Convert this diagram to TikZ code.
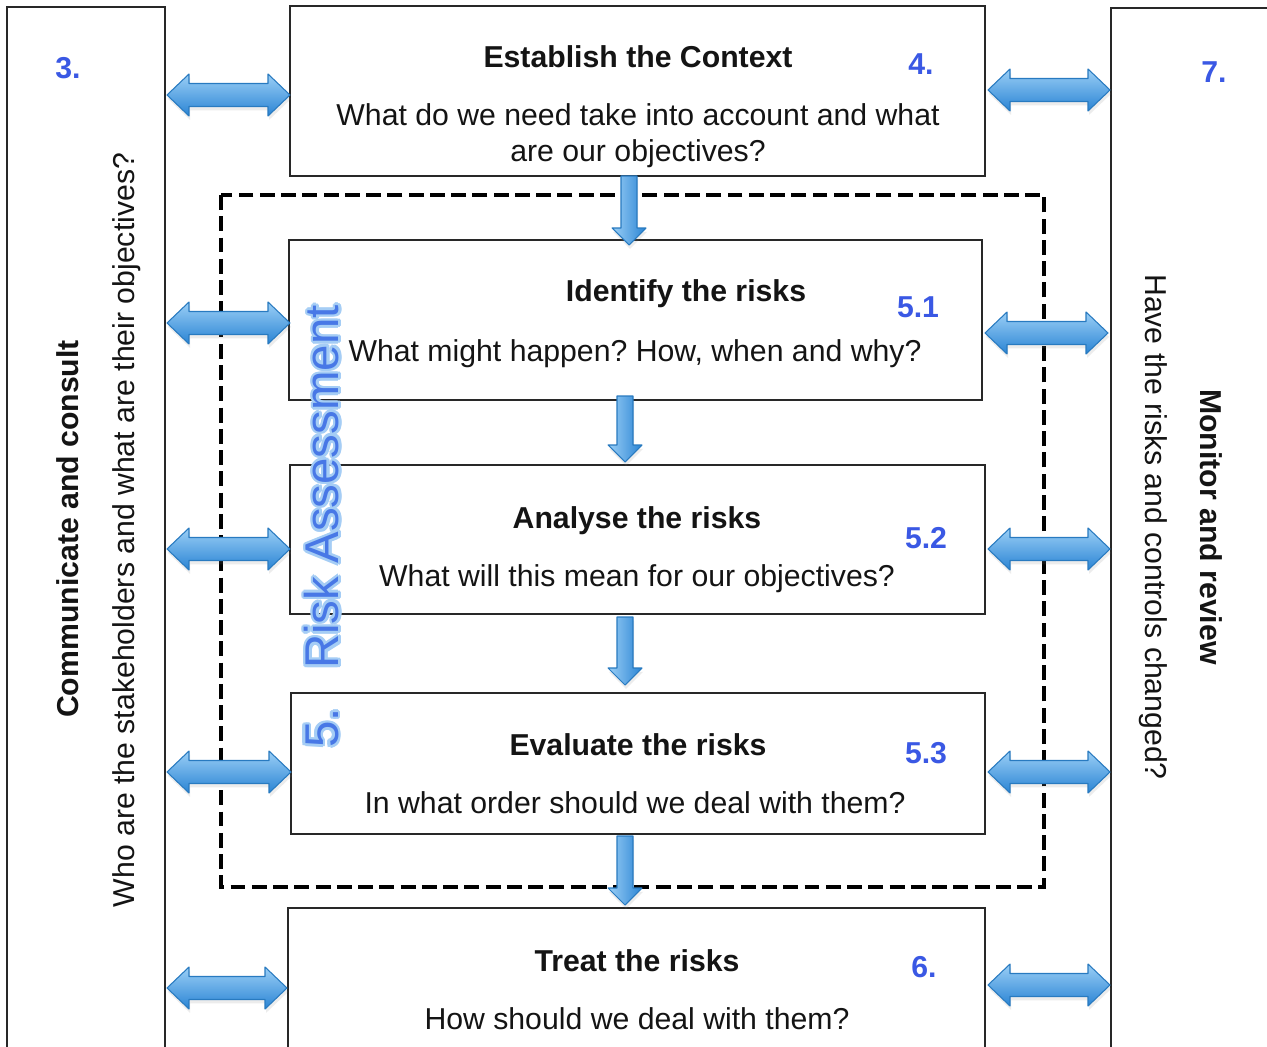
\documentclass[tikz,border=0pt]{standalone}
\usepackage{fontspec}
\setmainfont{Liberation Sans}
\frenchspacing
\usetikzlibrary{calc,fit,shadows}
\definecolor{txtcol}{RGB}{20,20,20}
\definecolor{boxedge}{RGB}{40,40,40}
\definecolor{numblue}{RGB}{58,88,228}
\definecolor{riskblue}{RGB}{72,120,230}
\definecolor{glowblue}{RGB}{165,205,245}
\definecolor{arrowlight}{RGB}{155,207,246}
\definecolor{arrowdark}{RGB}{42,132,212}
\definecolor{arrowedge}{RGB}{40,122,192}

\newcommand\fatdbl[2]{%
  \path[fatarrow, top color=arrowlight, bottom color=arrowdark]
    let \p1=(#1), \p2=(#2) in
    (\x1,\y1) -- (\x1+0.44cm,\y1+0.42cm) -- (\x1+0.44cm,\y1+0.23cm)
    -- (\x2-0.44cm,\y1+0.23cm) -- (\x2-0.44cm,\y1+0.42cm) -- (\x2,\y1)
    -- (\x2-0.44cm,\y1-0.42cm) -- (\x2-0.44cm,\y1-0.23cm)
    -- (\x1+0.44cm,\y1-0.23cm) -- (\x1+0.44cm,\y1-0.42cm) -- cycle;}
\newcommand\fatdown[2]{%
  \path[fatarrow, left color=arrowlight, right color=arrowdark]
    let \p1=(#1), \p2=(#2) in
    (\x1-0.16cm,\y1) -- (\x1+0.16cm,\y1) -- (\x1+0.16cm,\y2+0.34cm)
    -- (\x1+0.34cm,\y2+0.34cm) -- (\x1,\y2) -- (\x1-0.34cm,\y2+0.34cm)
    -- (\x1-0.16cm,\y2+0.34cm) -- cycle;}

\tikzset{
  box/.style={draw=boxedge, line width=0.7pt, inner sep=0pt, outer sep=0pt},
  riskframe/.style={draw=black, line width=2.2pt, dash pattern=on 8.5pt off 3.6pt},
  fatarrow/.style={draw=arrowedge, line width=0.6pt, line join=round,
    drop shadow={opacity=0.15, shadow xshift=0.6pt, shadow yshift=-2.2pt}},
  ttl/.style={font=\fontsize{17.2}{20.5}\selectfont\bfseries, text=txtcol, inner sep=0pt, anchor=base},
  dsc/.style={font=\fontsize{17.2}{20.5}\selectfont, text=txtcol, inner sep=0pt, anchor=base, align=center},
  num/.style={font=\fontsize{17.2}{20.5}\selectfont\bfseries, text=numblue, inner sep=0pt, anchor=base},
  risk/.style={font=\fontsize{27}{30}\selectfont, inner sep=0pt, rotate=90},
  side/.style={font=\fontsize{17.2}{20.5}\selectfont, text=txtcol, inner sep=0pt},
}

\begin{document}
\begin{tikzpicture}[x=0.02cm, y=-0.02cm]
\clip (0,0) rectangle (1267,1047);
\fill[white] (0,0) rectangle (1267,1047);

% side boxes
\node[box, fit={(7,7) (165,1070)}] (lb) {};
\node[box, fit={(1111,8) (1290,1070)}] (rb) {};

% main boxes
\node[box, fit={(290,6) (985,176)}] (ctx) {};
\node[box, fit={(289,240) (982,400)}] (idn) {};
\node[box, fit={(290,465) (985,614)}] (ana) {};
\node[box, fit={(291,693) (985,834)}] (eva) {};
\node[box, fit={(288,908) (985,1070)}] (trt) {};

% dashed risk assessment frame
\draw[riskframe] (221,195) rectangle (1044,887);

% texts in main boxes
\node[ttl] (ctxT) at (638,68) {Establish the Context};
\node[dsc] (ctxD1) at (638,126) {What do we need take into account and what};
\node[dsc] (ctxD2) at (638,162) {are our objectives?};
\node[num] (n4) at (921,75) {4.};

\node[ttl] (idnT) at (686,302) {Identify the risks};
\node[dsc] (idnD) at (635,361) {What might happen? How, when and why?};
\node[num] (n51) at (918,317) {5.1};

\node[ttl] (anaT) at (637,528) {Analyse the risks};
\node[dsc] (anaD) at (637,586) {What will this mean for our objectives?};
\node[num] (n52) at (926,548) {5.2};

\node[ttl] (evaT) at (638,755) {Evaluate the risks};
\node[dsc] (evaD) at (635,813) {In what order should we deal with them?};
\node[num] (n53) at (926,763) {5.3};

\node[ttl] (trtT) at (637,971) {Treat the risks};
\node[dsc] (trtD) at (637,1029) {How should we deal with them?};
\node[num] (n6) at (924,977) {6.};

\node[num] (n3) at (68,79) {3.};
\node[num] (n7) at (1214,83) {7.};

% side texts
\node[side, font=\fontsize{17.2}{20.5}\selectfont\bfseries, rotate=90] (lbT) at (68,529) {Communicate and consult};
\node[side, rotate=90] (lbD) at (127,530) {Who are the stakeholders and what are their objectives?};
\node[side, rotate=-90] (rbD) at (1153,527) {Have the risks and controls changed?};
\node[side, font=\fontsize{17.2}{20.5}\selectfont\bfseries, rotate=-90] (rbT) at (1211,527) {Monitor and review};

% Risk Assessment label with glow
\coordinate (rc) at (322,487);
\coordinate (fc) at (322,728);
\foreach \a in {0,30,...,330} {
  \node[risk, text=glowblue] (glowA\a) at ($(rc)+(\a:0.05cm)$) {Risk Assessment};
  \node[risk, text=glowblue] (glowB\a) at ($(fc)+(\a:0.05cm)$) {5.};
}
\node[risk, text=riskblue] (riskT) at (rc) {Risk Assessment};
\node[risk, text=riskblue] (riskN) at (fc) {5.};

% down arrows
\coordinate (d1s) at (ctx.south -| 629,0);
\coordinate (d1e) at ($(idn.north -| 629,0)+(0,5)$);
\coordinate (d2s) at ($(idn.south -| 625,0)+(0,-4)$);
\coordinate (d2e) at ($(ana.north -| 625,0)+(0,-3)$);
\coordinate (d3s) at ($(ana.south -| 625,0)+(0,3)$);
\coordinate (d3e) at ($(eva.north -| 625,0)+(0,-8)$);
\coordinate (d4s) at ($(eva.south -| 625,0)+(0,2)$);
\coordinate (d4e) at ($(trt.north -| 625,0)+(0,-3)$);
\fatdown{d1s}{d1e}
\fatdown{d2s}{d2e}
\fatdown{d3s}{d3e}
\fatdown{d4s}{d4e}

% left double arrows
\coordinate (l1a) at ($(lb.east |- 0,95)+(2,0)$);  \coordinate (l1b) at (ctx.west |- 0,95);
\coordinate (l2a) at ($(lb.east |- 0,323)+(2,0)$); \coordinate (l2b) at ($(idn.west |- 0,323)+(1,0)$);
\coordinate (l3a) at ($(lb.east |- 0,549)+(2,0)$); \coordinate (l3b) at (ana.west |- 0,549);
\coordinate (l4a) at ($(lb.east |- 0,772)+(2,0)$); \coordinate (l4b) at (eva.west |- 0,772);
\coordinate (l5a) at ($(lb.east |- 0,988)+(2,0)$); \coordinate (l5b) at ($(trt.west |- 0,988)+(-1,0)$);
\fatdbl{l1a}{l1b}
\fatdbl{l2a}{l2b}
\fatdbl{l3a}{l3b}
\fatdbl{l4a}{l4b}
\fatdbl{l5a}{l5b}

% right double arrows
\coordinate (r1a) at ($(ctx.east |- 0,90)+(3,0)$);  \coordinate (r1b) at ($(rb.west |- 0,90)+(-1,0)$);
\coordinate (r2a) at ($(idn.east |- 0,333)+(3,0)$); \coordinate (r2b) at ($(rb.west |- 0,333)+(-3,0)$);
\coordinate (r3a) at ($(ana.east |- 0,549)+(3,0)$); \coordinate (r3b) at ($(rb.west |- 0,549)+(-1,0)$);
\coordinate (r4a) at ($(eva.east |- 0,772)+(3,0)$); \coordinate (r4b) at ($(rb.west |- 0,772)+(-1,0)$);
\coordinate (r5a) at ($(trt.east |- 0,985)+(3,0)$); \coordinate (r5b) at ($(rb.west |- 0,985)+(-1,0)$);
\fatdbl{r1a}{r1b}
\fatdbl{r2a}{r2b}
\fatdbl{r3a}{r3b}
\fatdbl{r4a}{r4b}
\fatdbl{r5a}{r5b}
\end{tikzpicture}
\end{document}
